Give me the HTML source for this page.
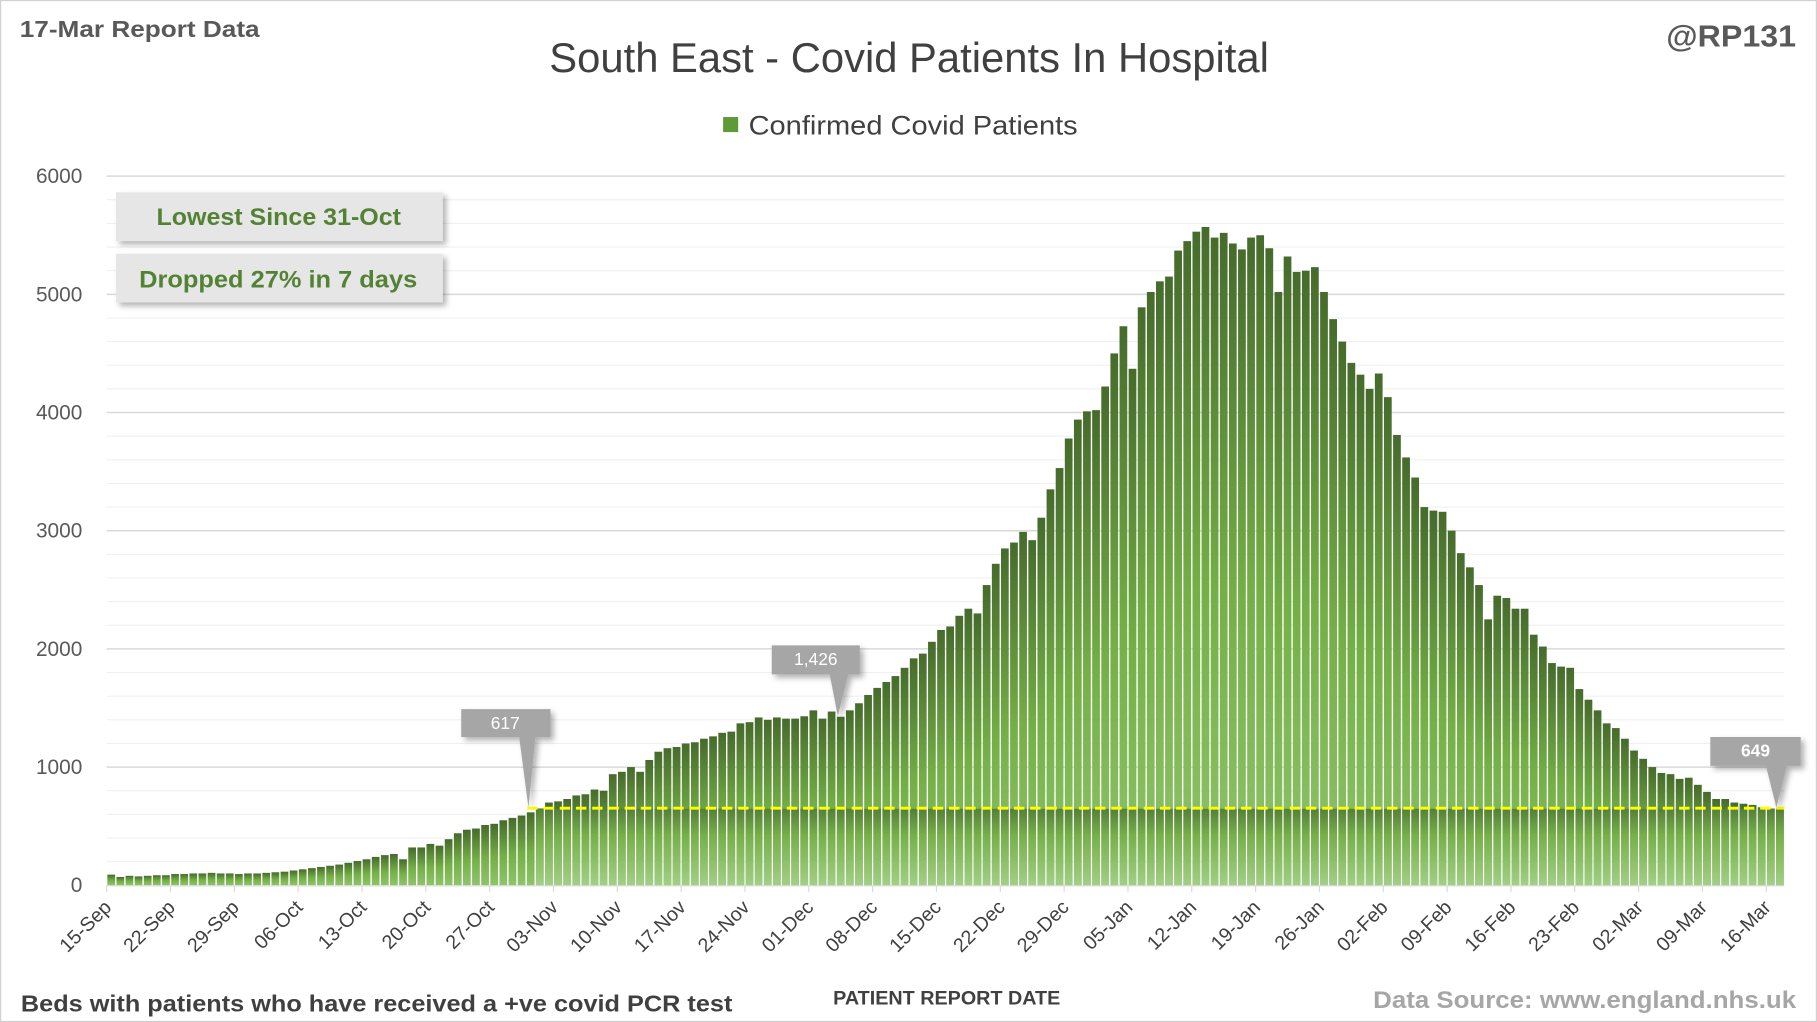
<!DOCTYPE html>
<html><head><meta charset="utf-8"><style>
html,body{margin:0;padding:0;background:#fff;}
svg{display:block;font-family:"Liberation Sans",sans-serif;}
</style></head><body>
<svg id="s" width="1817" height="1022" viewBox="0 0 1568 882" xmlns="http://www.w3.org/2000/svg">
<defs>
<linearGradient id="bg" x1="0" y1="0" x2="0" y2="1">
<stop offset="0" stop-color="#466b2c"/><stop offset="0.55" stop-color="#74b046"/><stop offset="1" stop-color="#8fc46b"/>
</linearGradient>
<linearGradient id="lg" gradientUnits="userSpaceOnUse" x1="0" y1="698" x2="0" y2="764">
<stop offset="0" stop-color="#557f38"/><stop offset="0.35" stop-color="#76b04a"/><stop offset="1" stop-color="#a2cf85"/>
</linearGradient>
<filter id="sh" x="-10%" y="-20%" width="130%" height="160%"><feDropShadow dx="3" dy="3" stdDeviation="2.5" flood-color="#000" flood-opacity="0.3"/></filter>
</defs>
<rect x="0.5" y="0.5" width="1567" height="881" fill="#fff" stroke="#d0d0d0"/>
<g id="grid"></g>
<g id="bars"></g>
<line x1="455" y1="697.5" x2="1540" y2="697.5" stroke="#ffff00" stroke-width="2.5" stroke-dasharray="9,5"/>
<line x1="92" y1="764.5" x2="1540" y2="764.5" stroke="#d9d9d9"/>
<g id="ticks"></g>
<g fill="#595959" font-size="18" text-anchor="end">
<text x="71" y="770">0</text><text x="71" y="668">1000</text><text x="71" y="566">2000</text><text x="71" y="464">3000</text><text x="71" y="362">4000</text><text x="71" y="260">5000</text><text x="71" y="158">6000</text>
</g>
<text x="17" y="32" font-size="20" font-weight="bold" fill="#595959" textLength="207" lengthAdjust="spacingAndGlyphs">17-Mar Report Data</text>
<text x="1438" y="40" font-size="26" font-weight="bold" fill="#595959" textLength="112" lengthAdjust="spacingAndGlyphs">@RP131</text>
<text x="474" y="62" font-size="36" fill="#404040" textLength="621" lengthAdjust="spacingAndGlyphs">South East - Covid Patients In Hospital</text>
<rect x="624" y="101" width="13" height="13" fill="#5e9a38"/>
<text x="646" y="116" font-size="23" fill="#404040" textLength="284" lengthAdjust="spacingAndGlyphs">Confirmed Covid Patients</text>
<rect x="100" y="166" width="282" height="42" fill="#e6e6e6" filter="url(#sh)"/>
<rect x="100" y="219" width="282" height="42" fill="#e6e6e6" filter="url(#sh)"/>
<text x="135" y="194" font-size="21" font-weight="bold" fill="#548235" textLength="211" lengthAdjust="spacingAndGlyphs">Lowest Since 31-Oct</text>
<text x="120" y="248" font-size="21" font-weight="bold" fill="#548235" textLength="240" lengthAdjust="spacingAndGlyphs">Dropped 27% in 7 days</text>
<g filter="url(#sh)" fill="#a6a6a6">
<path d="M398,612 H475 V636 H462 L456,697 L448,636 H398 Z"/>
<path d="M666,557 H742 V582 H732 L723,618 L716,582 H666 Z"/>
<path d="M1476,636 H1554 V661 H1542 L1533,697 L1524,661 H1476 Z"/>
</g>
<text x="436" y="629" font-size="15" fill="#fff" text-anchor="middle">617</text>
<text x="704" y="574" font-size="15" fill="#fff" text-anchor="middle">1,426</text>
<text x="1515" y="653" font-size="15" font-weight="bold" fill="#fff" text-anchor="middle">649</text>
<g id="xl" font-size="17" fill="#404040" text-anchor="end"></g>
<text x="18" y="873" font-size="20" font-weight="bold" fill="#404040" textLength="614" lengthAdjust="spacingAndGlyphs">Beds with patients who have received a +ve covid PCR test</text>
<text x="719" y="867" font-size="17" font-weight="bold" fill="#404040" textLength="196" lengthAdjust="spacingAndGlyphs">PATIENT REPORT DATE</text>
<text x="1185" y="870" font-size="21" font-weight="bold" fill="#a6a6a6" textLength="365" lengthAdjust="spacingAndGlyphs">Data Source: www.england.nhs.uk</text>
</svg>
<script>
var NS="http://www.w3.org/2000/svg";
function el(p,t,a,txt){var e=document.createElementNS(NS,t);for(var k in a)e.setAttribute(k,a[k]);if(txt!==undefined)e.textContent=txt;p.appendChild(e);return e;}
var d=[90,70,80,75,80,85,85,95,95,100,100,105,100,100,95,100,
100,105,110,115,125,135,145,155,165,175,190,205,220,240,255,265,220,320,320,350,335,390,440,470,480,510,520,550,570,590,617,
650,700,710,730,760,770,810,800,940,960,1000,960,1060,1130,1160,1170,1200,1210,1240,1260,1290,1300,1370,1380,1420,1400,1420,1410,1410,1430,1480,1410,1470,
1426,1480,1540,1610,1670,1720,1770,1840,1920,1960,2060,2160,2190,2280,2340,2300,
2540,2720,2850,2900,2990,2920,3110,3350,3530,3780,3940,4010,4020,4220,4500,4730,4370,4890,5020,5110,5150,5370,5450,5530,5570,5480,5520,5430,5380,5480,5500,5390,5020,5320,5190,5200,5230,5020,4790,4600,4420,4320,4200,4330,4130,3810,3620,3450,3200,3170,3160,3000,2810,2690,2540,2250,2450,2430,2340,2340,2120,2020,1880,1850,1840,1660,1570,1480,1370,1330,1240,1140,1070,1000,950,940,900,910,850,790,730,730,700,690,680,660,649];
var N=184;while(d.length<N)d.push(649);d=d.slice(0,N);
var x0=92,x1=1540,y0=764,k=0.102,w=(x1-x0)/N;
var g=document.getElementById('grid');
for(var v=200;v<=6000;v+=200){var y=y0-v*k;el(g,'line',{x1:x0,x2:x1,y1:y,y2:y,stroke:(v%1000==0)?'#d9d9d9':'#f0f0f0','stroke-width':(v%1000==0)?1.3:1});}
var b=document.getElementById('bars');
for(var i=0;i<N;i++){var h=d[i]*k,x=x0+i*w+0.6;
el(b,'rect',{x:x,y:y0-h,width:w-1.2,height:h,fill:'url(#bg)'});
if(d[i]>=640){el(b,'rect',{x:x,y:698,width:w-1.2,height:66,fill:'url(#lg)'});}
}
var t=document.getElementById('ticks'),xl=document.getElementById('xl');
var labs=['15-Sep','22-Sep','29-Sep','06-Oct','13-Oct','20-Oct','27-Oct','03-Nov','10-Nov','17-Nov','24-Nov','01-Dec','08-Dec','15-Dec','22-Dec','29-Dec','05-Jan','12-Jan','19-Jan','26-Jan','02-Feb','09-Feb','16-Feb','23-Feb','02-Mar','09-Mar','16-Mar'];
for(var j=0;j<labs.length;j++){var x=x0+j*7*w;
el(t,'line',{x1:x,x2:x,y1:764,y2:770,stroke:'#d9d9d9'});
el(xl,'text',{x:x+5,y:784,transform:'rotate(-45 '+(x+5)+' 784)'},labs[j]);}
</script>
</body></html>
